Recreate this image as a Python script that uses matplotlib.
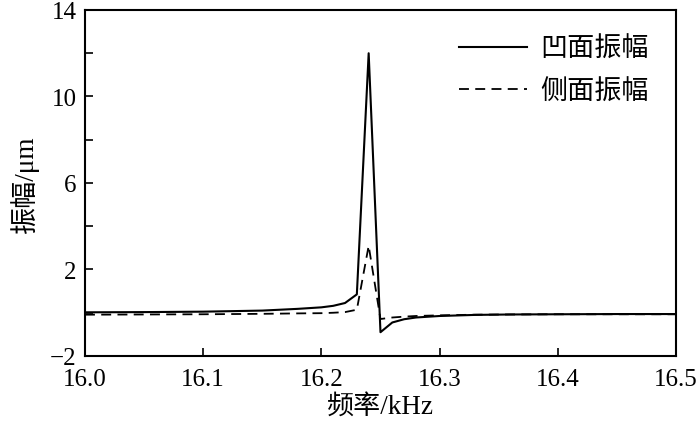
import matplotlib
matplotlib.use("Agg")
import matplotlib.pyplot as plt

# 数据
freq = [16.0, 16.05, 16.1, 16.15, 16.18, 16.2, 16.21, 16.22, 16.23, 16.24,
        16.25, 16.26, 16.27, 16.28, 16.3, 16.33, 16.36, 16.4, 16.45, 16.5]
amp_concave = [0.02, 0.03, 0.05, 0.1, 0.18, 0.25, 0.32, 0.45, 0.85, 12.0,
               -0.9, -0.45, -0.3, -0.22, -0.15, -0.1, -0.08, -0.07, -0.06, -0.06]
amp_side = [-0.09, -0.08, -0.07, -0.05, -0.03, -0.02, 0.0, 0.03, 0.14, 3.1,
            -0.29, -0.22, -0.18, -0.15, -0.12, -0.09, -0.08, -0.07, -0.07, -0.07]

x_ticks = [16.0, 16.1, 16.2, 16.3, 16.4, 16.5]
y_ticks = [-2, 0, 2, 4, 6, 8, 10, 12, 14]
y_labels = ["\u22122", "", "2", "", "6", "", "10", "", "14"]

plt.rcParams['font.family'] = ['Liberation Serif', 'Noto Sans CJK SC']
plt.rcParams['axes.unicode_minus'] = True

fig = plt.figure(figsize=(7.0, 4.31), dpi=100)
ax = fig.add_axes([0.1214, 0.1717, 0.8443, 0.8028])

ax.plot(freq, amp_concave, color='black', lw=1.5, label='凹面振幅')
ax.plot(freq, amp_side, color='black', lw=1.3, ls=(0, (5.5, 3.5)), label='侧面振幅')

ax.set_xlim(16.0, 16.5)
ax.set_ylim(-2, 14)
ax.set_xticks(x_ticks)
ax.set_xticklabels([f"{v:.1f}" for v in x_ticks])
ax.set_yticks(y_ticks)
ax.set_yticklabels(y_labels)
ax.tick_params(direction='in', length=6, width=1.2, labelsize=18)
ax.tick_params(axis='x', pad=9)
ax.tick_params(axis='y', pad=6)
for s in ax.spines.values():
    s.set_linewidth(1.5)

ax.set_xlabel('频率/kHz', fontsize=19.5, labelpad=2)
ax.set_ylabel('振幅/μm', fontsize=19.5, labelpad=8)

leg = ax.legend(loc='upper right', frameon=False, fontsize=19.5,
                handlelength=2.5, handletextpad=0.5, labelspacing=0.65,
                borderaxespad=0.6)

fig.savefig('out.png', dpi=100)
